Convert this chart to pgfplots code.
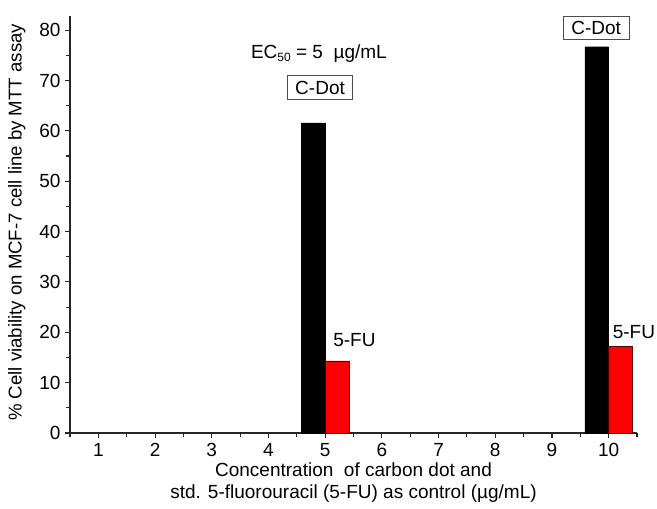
\documentclass[border=0pt]{standalone}
\usepackage{fontspec}
\setmainfont{Liberation Sans}
\usepackage{pgfplots}
\pgfplotsset{compat=1.18}
\newcommand{\fs}{\fontsize{19}{22}\selectfont}
\begin{document}
\begin{tikzpicture}[x=1pt,y=1pt]
\path[use as bounding box] (0,0) rectangle (657,509);
\begin{axis}[
  at={(70pt,76pt)}, anchor=south west,
  scale only axis, width=567pt, height=417pt,
  xmin=0.5, xmax=10.5, ymin=0, ymax=82.8,
  axis lines=left, axis line style={line width=1.1pt, draw=black!85, -},
  xtick={1,...,10}, minor xtick={0.5,1.5,...,10.5},
  ytick={0,10,...,80}, minor ytick={5,15,...,75},
  tick align=outside, major tick length=5pt, minor tick length=4pt,
  tick style={line width=1.1pt, draw=black!85},
  /pgf/number format/assume math mode=true,
  tick label style={font=\fs},
  label style={font=\fs},
  xlabel={Concentration\ \ of carbon dot and\\std. 5-fluorouracil (5-FU) as control (µg/mL)},
  xlabel style={align=center, at={(axis description cs:0.5,0)}, anchor=north, yshift=-26pt},
  ylabel={\% Cell viability on MCF-7 cell line by MTT assay},
  ylabel style={at={(axis description cs:0,0.505)}, anchor=south, yshift=41pt, font=\fontsize{18.6}{22}\selectfont},
  xticklabel style={yshift=-2pt},
  yticklabel style={xshift=-1pt},
  clip=false,
]
\addplot[ybar, bar width=0.42, bar shift=-0.21, fill=black, draw=black]
  coordinates {(5,61.6) (10,76.7)};
\addplot[ybar, bar width=0.42, bar shift=0.21, fill=red, draw=black!70!red, line width=0.8pt]
  coordinates {(5,14.3) (10,17.1)};
\node[font=\fs] at (axis cs:4.89,75.4) {EC{\fontsize{12}{14}\selectfont\raisebox{-3pt}{50}} = 5\ \ µg/mL};
\node[font=\fs, draw=black!70, line width=0.8pt, fill=white, inner xsep=8pt, inner ysep=5pt] at (axis cs:4.91,68.6) {C-Dot};
\node[font=\fs, draw=black!70, line width=0.8pt, fill=white, inner xsep=8pt, inner ysep=5pt] at (axis cs:9.78,80.4) {C-Dot};
\node[font=\fs, anchor=west, inner sep=0pt] at (axis cs:5.14,18.5) {5-FU};
\node[font=\fs, anchor=west, inner sep=0pt] at (axis cs:10.07,20.1) {5-FU};
\end{axis}
\end{tikzpicture}
\end{document}
